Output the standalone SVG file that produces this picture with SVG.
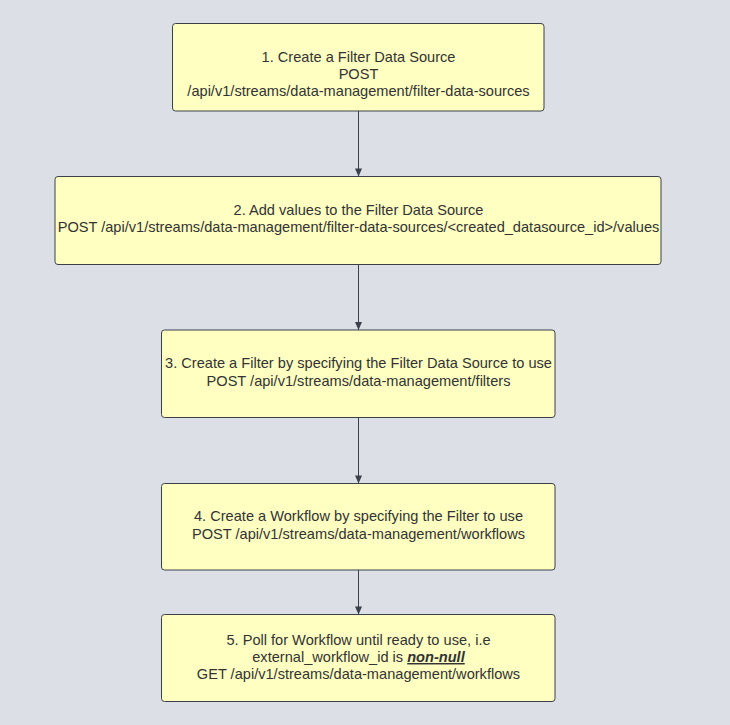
<svg xmlns="http://www.w3.org/2000/svg" width="730" height="725" viewBox="0 0 730 725">
<style>
.box{fill:#ffffc2;stroke:#3a414a;stroke-width:1}
.t{font-family:"Liberation Sans",Arial,sans-serif;font-size:14.6px;fill:#333333;text-anchor:middle}
.c{stroke:#3a414a;stroke-width:1;fill:none;marker-end:url(#ah)}
</style>
<defs>
<marker id="ah" markerWidth="10" markerHeight="8" refX="9" refY="4" orient="auto" markerUnits="userSpaceOnUse" viewBox="0 0 10 8">
<path d="M1,0.5 L9,4 L1,7.5 Z" fill="#3a414a"/>
</marker>
</defs>
<rect x="0" y="0" width="730" height="725" fill="#dce0e6"/>
<g id="connectors">
<line class="c" x1="358.5" y1="111" x2="358.5" y2="176.5"/>
<line class="c" x1="358.5" y1="264.5" x2="358.5" y2="330"/>
<line class="c" x1="358.5" y1="417.5" x2="358.5" y2="483.5"/>
<line class="c" x1="358.5" y1="570" x2="358.5" y2="614.5"/>
</g>
<g id="node1">
<rect class="box" x="172.5" y="23.5" width="371.5" height="87.5" rx="3"/>
<text class="t" x="358.5" y="61.5">1. Create a Filter Data Source</text>
<text class="t" x="358.5" y="78.5">POST</text>
<text class="t" x="358.5" y="95.5">/api/v1/streams/data-management/filter-data-sources</text>
</g>
<g id="node2">
<rect class="box" x="55" y="176.5" width="606" height="88" rx="3"/>
<text class="t" x="358.5" y="214.5">2. Add values to the Filter Data Source</text>
<text class="t" x="358.5" y="232">POST /api/v1/streams/data-management/filter-data-sources/&lt;created_datasource_id&gt;/values</text>
</g>
<g id="node3">
<rect class="box" x="161.5" y="330" width="393.5" height="87.5" rx="3"/>
<text class="t" x="358.5" y="368">3. Create a Filter by specifying the Filter Data Source to use</text>
<text class="t" x="358.5" y="385.5">POST /api/v1/streams/data-management/filters</text>
</g>
<g id="node4">
<rect class="box" x="161.5" y="483.5" width="393.5" height="86.5" rx="3"/>
<text class="t" x="358.5" y="521">4. Create a Workflow by specifying the Filter to use</text>
<text class="t" x="358.5" y="538.5">POST /api/v1/streams/data-management/workflows</text>
</g>
<g id="node5">
<rect class="box" x="161.5" y="614.5" width="393.5" height="87" rx="3"/>
<text class="t" x="358.5" y="645">5. Poll for Workflow until ready to use, i.e</text>
<text class="t" x="358.5" y="662">external_workflow_id is <tspan font-weight="bold" font-style="italic" text-decoration="underline">non-null</tspan></text>
<text class="t" x="358.5" y="679">GET /api/v1/streams/data-management/workflows</text>
</g>
</svg>
